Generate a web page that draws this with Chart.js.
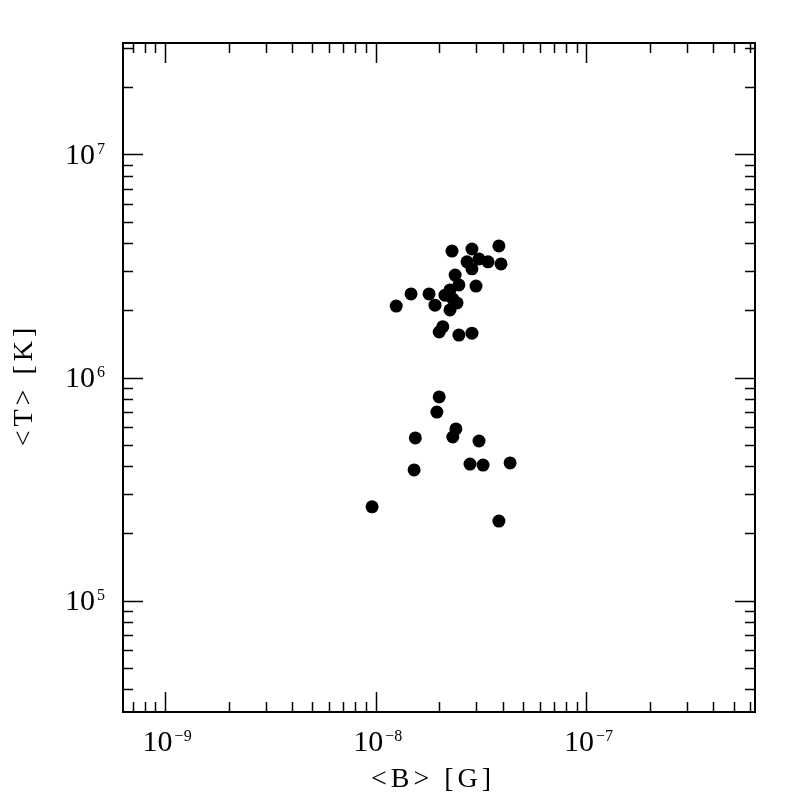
<!DOCTYPE html>
<html>
<head>
<meta charset="utf-8">
<script src="https://cdn.jsdelivr.net/npm/chart.js@4/dist/chart.umd.min.js"></script>
<style>
  html, body { margin: 0; padding: 0; background: #fff; }
  #wrap { width: 797px; height: 797px; }
</style>
</head>
<body>
<div id="wrap"><canvas id="chart" width="797" height="797"></canvas></div>
<script>
// <B> in Gauss, <T> in Kelvin, one entry per object
const bField = [
  1.25e-8, 1.47e-8, 1.79e-8, 1.91e-8, 2.13e-8, 2.25e-8, 2.00e-8, 2.08e-8,
  2.48e-8, 2.86e-8, 2.30e-8, 2.86e-8, 3.84e-8, 2.71e-8, 3.09e-8, 3.41e-8,
  3.93e-8, 2.86e-8, 2.38e-8, 2.99e-8, 2.48e-8, 2.25e-8, 2.32e-8, 2.43e-8,
  0.96e-8, 1.52e-8, 1.54e-8, 1.95e-8, 2.00e-8, 2.32e-8, 2.40e-8, 3.09e-8,
  2.80e-8, 3.23e-8, 4.34e-8, 3.84e-8
];
const temperature = [
  2.09e6, 2.37e6, 2.37e6, 2.11e6, 2.34e6, 2.01e6, 1.60e6, 1.69e6,
  1.55e6, 1.58e6, 3.69e6, 3.77e6, 3.89e6, 3.30e6, 3.40e6, 3.30e6,
  3.23e6, 3.07e6, 2.88e6, 2.57e6, 2.60e6, 2.47e6, 2.25e6, 2.16e6,
  2.63e5, 3.85e5, 5.36e5, 7.00e5, 8.18e5, 5.41e5, 5.88e5, 5.19e5,
  4.09e5, 4.05e5, 4.14e5, 2.27e5
];

// axis ranges (log10) and labelled decades
const xLogRange = [-9.2, -6.2];
const yLogRange = [4.5, 7.5];
const xTickExps = [-9, -8, -7];
const yTickExps = [5, 6, 7];

const xTitle = '<B> [G]';
const yTitle = '<T> [K]';

const FONT = '"Liberation Serif", "DejaVu Serif", serif';

function drawPow(ctx, exp, x, y, align) {
  // "10" with a raised exponent; y is the baseline of "10"
  const base = '10';
  const sup = String(exp).replace('-', '\u2212');
  ctx.font = '30px ' + FONT;
  const w1 = ctx.measureText(base).width;
  ctx.font = '16px ' + FONT;
  const w2 = ctx.measureText(sup).width;
  let left = align === 'center' ? x - (w1 + w2 + 2) / 2 : x - (w1 + w2 + 2);
  ctx.textAlign = 'left';
  ctx.textBaseline = 'alphabetic';
  ctx.font = '30px ' + FONT;
  ctx.fillText(base, left, y);
  ctx.font = '16px ' + FONT;
  ctx.fillText(sup, left + w1 + 2, y - 10);
}

const frame = {
  id: 'frame',
  afterDraw(chart) {
    const { ctx, chartArea: a, scales: { x, y } } = chart;
    ctx.save();
    ctx.strokeStyle = '#000';
    ctx.fillStyle = '#000';

    // ticks on all four sides, pointing in
    ctx.lineWidth = 1.5;
    ctx.beginPath();
    for (let d = Math.floor(xLogRange[0]); d <= Math.ceil(xLogRange[1]); d++) {
      for (let m = 1; m <= 9; m++) {
        const v = m * Math.pow(10, d);
        if (v < x.min || v > x.max) continue;
        const px = Math.round(x.getPixelForValue(v)) + 0.5;
        const len = m === 1 ? 20 : 10;
        ctx.moveTo(px, a.bottom); ctx.lineTo(px, a.bottom - len);
        ctx.moveTo(px, a.top); ctx.lineTo(px, a.top + len);
      }
    }
    for (let d = Math.floor(yLogRange[0]); d <= Math.ceil(yLogRange[1]); d++) {
      for (let m = 1; m <= 9; m++) {
        const v = m * Math.pow(10, d);
        if (v < y.min || v > y.max) continue;
        const py = Math.round(y.getPixelForValue(v)) + 0.5;
        const len = m === 1 ? 20 : 10;
        ctx.moveTo(a.left, py); ctx.lineTo(a.left + len, py);
        ctx.moveTo(a.right, py); ctx.lineTo(a.right - len, py);
      }
    }
    ctx.stroke();

    ctx.lineWidth = 2;
    ctx.strokeRect(a.left, a.top, a.right - a.left, a.bottom - a.top);

    // decade labels
    xTickExps.forEach(e => {
      drawPow(ctx, e, x.getPixelForValue(Math.pow(10, e)) + 2, a.bottom + 39, 'center');
    });
    yTickExps.forEach(e => {
      drawPow(ctx, e, a.left - 18, y.getPixelForValue(Math.pow(10, e)) + 9, 'right');
    });

    // axis titles, spaced out like the original
    ctx.font = '28px ' + FONT;
    ctx.letterSpacing = '4px';
    ctx.textAlign = 'center';
    ctx.textBaseline = 'alphabetic';
    ctx.fillText(xTitle, 433, 787);
    ctx.save();
    ctx.translate(32, 385);
    ctx.rotate(-Math.PI / 2);
    ctx.fillText(yTitle, 0, 0);
    ctx.restore();

    ctx.restore();
  }
};

new Chart(document.getElementById('chart'), {
  type: 'scatter',
  data: {
    datasets: [{
      data: bField.map((b, i) => ({ x: b, y: temperature[i] })),
      backgroundColor: '#000',
      borderColor: '#000',
      borderWidth: 0,
      pointRadius: 6.5,
      pointHoverRadius: 6.5
    }]
  },
  options: {
    responsive: false,
    animation: false,
    events: [],
    layout: { padding: { left: 123, right: 42, top: 43, bottom: 85 } },
    plugins: { legend: { display: false }, tooltip: { enabled: false } },
    scales: {
      x: {
        type: 'logarithmic',
        min: Math.pow(10, xLogRange[0]),
        max: Math.pow(10, xLogRange[1]),
        display: false
      },
      y: {
        type: 'logarithmic',
        min: Math.pow(10, yLogRange[0]),
        max: Math.pow(10, yLogRange[1]),
        display: false
      }
    }
  },
  plugins: [frame]
});
</script>
</body>
</html>
